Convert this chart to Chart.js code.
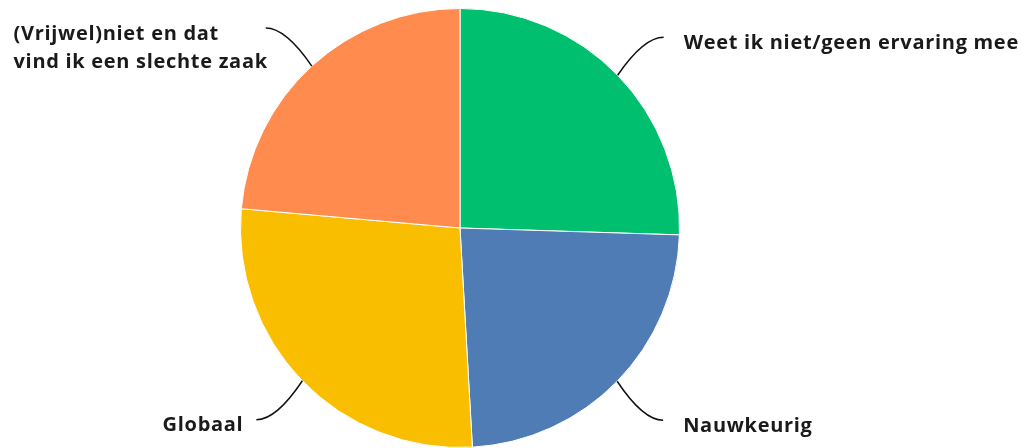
<!DOCTYPE html>
<html>
<head>
<meta charset="utf-8">
<script src="https://cdn.jsdelivr.net/npm/chart.js@4"></script>
<style>
  html, body { margin: 0; padding: 0; background: #fff; }
  #wrap { width: 1022px; height: 448px; }
</style>
</head>
<body>
<div id="wrap"><canvas id="chart" width="1022" height="448"></canvas></div>
<script>
const labels = [
  'Weet ik niet/geen ervaring mee',
  'Nauwkeurig',
  'Globaal',
  ['(Vrijwel)niet en dat', 'vind ik een slechte zaak']
];
const values = [25.5, 23.6, 27.3, 23.6];
const colors = ['#00BF6F', '#507CB6', '#F9BE00', '#FF8B4F'];

const FONT = 'bold 20px "Open Sans", sans-serif';
const LINE_H = 28;

// curved leader lines + labels, anchored on each arc's outer midpoint
const leaderLabels = {
  id: 'leaderLabels',
  afterDatasetsDraw(chart) {
    const ctx = chart.ctx;
    const meta = chart.getDatasetMeta(0);
    ctx.save();
    ctx.font = FONT;
    ctx.letterSpacing = '0.7px';
    ctx.fillStyle = '#1a1a1a';
    ctx.strokeStyle = '#111';
    ctx.lineWidth = 1.5;
    ctx.textBaseline = 'middle';
    ctx.textAlign = 'left';

    meta.data.forEach((arc, i) => {
      const {x, y, outerRadius, startAngle, endAngle} = arc.getProps(['x', 'y', 'outerRadius', 'startAngle', 'endAngle'], true);
      const mid = (startAngle + endAngle) / 2;
      const sx = x + Math.cos(mid) * outerRadius;
      const sy = y + Math.sin(mid) * outerRadius;
      const right = Math.cos(mid) >= 0;
      const down = Math.sin(mid) >= 0;
      const ex = sx + (right ? 46 : -46);
      const ey = sy + (down ? 39 : -38);
      const cx = ex + (right ? -20 : 20);

      ctx.beginPath();
      ctx.moveTo(sx, sy);
      ctx.quadraticCurveTo(cx, ey, ex, ey);
      ctx.stroke();

      const lines = [].concat(labels[i]);
      const widest = Math.max(...lines.map(l => ctx.measureText(l).width));
      let tx;
      if (right) tx = ex + 20;
      else if (lines.length > 1) tx = ex + 2 - widest;
      else tx = ex - 13 - widest;
      lines.forEach((l, k) => {
        ctx.fillText(l, tx, ey + 6 + k * LINE_H);
      });
    });
    ctx.restore();
  }
};

new Chart(document.getElementById('chart').getContext('2d'), {
  type: 'pie',
  data: {
    labels: labels,
    datasets: [{
      data: values,
      backgroundColor: colors,
      borderColor: '#ffffff',
      borderWidth: 1
    }]
  },
  options: {
    responsive: false,
    animation: false,
    layout: {
      padding: {top: 8, bottom: 0, left: 0, right: 102}
    },
    plugins: {
      legend: {display: false},
      tooltip: {enabled: false}
    }
  },
  plugins: [leaderLabels]
});
</script>
</body>
</html>
